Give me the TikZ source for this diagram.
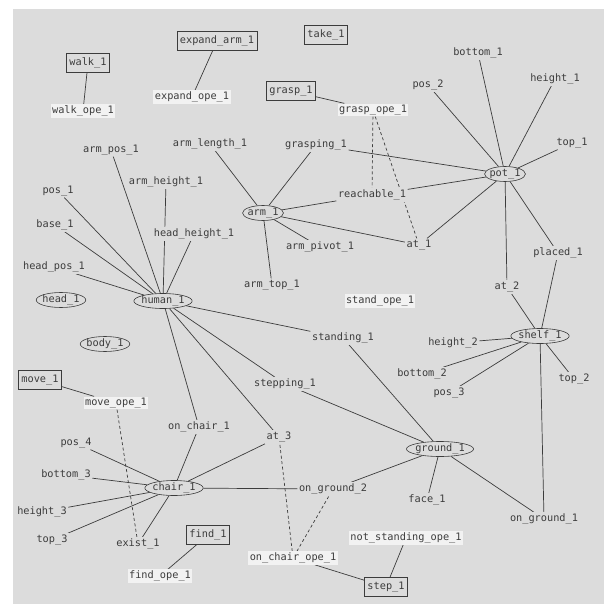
\documentclass[tikz,border=0pt]{standalone}
\usepackage{fontspec}
\newfontfamily\labfont{DejaVu Sans Mono}
\usetikzlibrary{shapes.geometric}
\pgfdeclarelayer{back}
\pgfdeclarelayer{bg}
\pgfsetlayers{back,bg,main}
\definecolor{panel}{HTML}{DCDCDC}
\definecolor{opefill}{HTML}{F2F2F2}
\definecolor{ink}{HTML}{3C3C3C}
\tikzset{
  lab/.style={font=\labfont\fontsize{10.3}{12}\selectfont, text=ink, inner sep=1.5pt, fill=panel},
  ope/.style={lab, fill=opefill},
  obj/.style={lab, ellipse, draw=ink, line width=0.6pt, inner xsep=-1pt, inner ysep=0pt, minimum height=15bp},
  act/.style={lab, draw=ink, line width=0.6pt, inner xsep=3pt, inner ysep=4.5pt},
  link/.style={draw=ink, line width=0.7pt},
  dlink/.style={link, dash pattern=on 3pt off 2.5pt},
}
\begin{document}
\begin{tikzpicture}[x=1bp,y=-1bp]
\useasboundingbox (0,0) rectangle (605,609);
\begin{pgfonlayer}{back}
  \fill[white] (0,0) rectangle (605,609);
  \fill[panel] (13,9) rectangle (604,604);
\end{pgfonlayer}

\node[act] (walk) at (88,63) {walk\_1};
\node[ope] (walkope) at (83,111) {walk\_ope\_1};
\node[act] (expand) at (217,41) {expand\_arm\_1};
\node[ope] (expandope) at (192,97) {expand\_ope\_1};
\node[act] (take) at (326,35) {take\_1};
\node[act] (grasp) at (291,91) {grasp\_1};
\node[ope] (graspope) at (373,110) {grasp\_ope\_1};
\node[lab] (bottom1) at (478,53) {bottom\_1};
\node[lab] (height1) at (555,79) {height\_1};
\node[lab] (pos2) at (428,85) {pos\_2};
\node[lab] (top1) at (572,143) {top\_1};
\node[obj] (pot) at (505,174) {pot\_1};
\node[lab] (armpos) at (111,150) {arm\_pos\_1};
\node[lab] (armlength) at (210,144) {arm\_length\_1};
\node[lab] (grasping) at (316,145) {grasping\_1};
\node[lab] (armheight) at (166,182) {arm\_height\_1};
\node[lab] (pos1) at (58,191) {pos\_1};
\node[lab] (reachable) at (372,195) {reachable\_1};
\node[obj] (arm) at (263,213) {arm\_1};
\node[lab] (base) at (55,225) {base\_1};
\node[lab] (headheight) at (194,234) {head\_height\_1};
\node[lab] (armpivot) at (320,247) {arm\_pivot\_1};
\node[lab] (at1) at (419,245) {at\_1};
\node[lab] (placed) at (558,253) {placed\_1};
\node[lab] (headpos) at (54,267) {head\_pos\_1};
\node[lab] (armtop) at (272,285) {arm\_top\_1};
\node[lab] (at2) at (507,287) {at\_2};
\node[obj] (head) at (61,300) {head\_1};
\node[obj] (human) at (163,301) {human\_1};
\node[ope] (standope) at (380,301) {stand\_ope\_1};
\node[obj] (shelf) at (540,336) {shelf\_1};
\node[lab] (standing) at (343,338) {standing\_1};
\node[lab] (height2) at (453,343) {height\_2};
\node[obj] (body) at (105,344) {body\_1};
\node[lab] (bottom2) at (422,374) {bottom\_2};
\node[lab] (top2) at (574,379) {top\_2};
\node[act] (move) at (40,380) {move\_1};
\node[lab] (stepping) at (285,384) {stepping\_1};
\node[lab] (pos3) at (449,393) {pos\_3};
\node[ope] (moveope) at (116,403) {move\_ope\_1};
\node[lab] (onchair) at (199,427) {on\_chair\_1};
\node[lab] (at3) at (279,437) {at\_3};
\node[lab] (pos4) at (76,443) {pos\_4};
\node[obj] (ground) at (440,449) {ground\_1};
\node[lab] (bottom3) at (66,475) {bottom\_3};
\node[obj] (chair) at (174,488) {chair\_1};
\node[lab] (onground2) at (333,489) {on\_ground\_2};
\node[lab] (face) at (427,500) {face\_1};
\node[lab] (height3) at (42,512) {height\_3};
\node[lab] (onground1) at (544,519) {on\_ground\_1};
\node[act] (find) at (208,535) {find\_1};
\node[ope] (notstandope) at (406,538) {not\_standing\_ope\_1};
\node[lab] (top3) at (52,540) {top\_3};
\node[lab] (exist) at (138,544) {exist\_1};
\node[ope] (onchairope) at (293,558) {on\_chair\_ope\_1};
\node[ope] (findope) at (160,576) {find\_ope\_1};
\node[act] (step) at (386,587) {step\_1};

\begin{pgfonlayer}{bg}
  % action boxes to their operators
  \draw[link] (walk) -- (walkope);
  \draw[link] (expand) -- (expandope);
  \draw[link] (grasp) -- (graspope);
  \draw[link] (move) -- (moveope);
  \draw[link] (find) -- (findope);
  \draw[link] (step) -- (onchairope);
  \draw[link] (step) -- (notstandope);
  % pot_1
  \foreach \n in {bottom1,height1,pos2,top1,grasping,reachable,at1,at2,placed}
    \draw[link] (pot) -- (\n);
  % arm_1
  \foreach \n in {armlength,grasping,reachable,at1,armpivot,armtop}
    \draw[link] (arm) -- (\n);
  % human_1
  \foreach \n in {armpos,armheight,pos1,base,headheight,headpos,standing,stepping,at3,onchair}
    \draw[link] (human) -- (\n);
  % shelf_1
  \foreach \n in {height2,bottom2,pos3,top2,at2,placed,onground1}
    \draw[link] (shelf) -- (\n);
  % ground_1
  \foreach \n in {standing,stepping,face,onground1,onground2}
    \draw[link] (ground) -- (\n);
  % chair_1
  \foreach \n in {pos4,bottom3,height3,top3,exist,onchair,at3,onground2}
    \draw[link] (chair) -- (\n);
  % dashed operator conditions
  \draw[dlink] (graspope) -- (reachable);
  \draw[dlink] (graspope) -- (at1);
  \draw[dlink] (moveope) -- (exist);
  \draw[dlink] (onchairope) -- (at3);
  \draw[dlink] (onchairope) -- (onground2);
\end{pgfonlayer}
\end{tikzpicture}
\end{document}
